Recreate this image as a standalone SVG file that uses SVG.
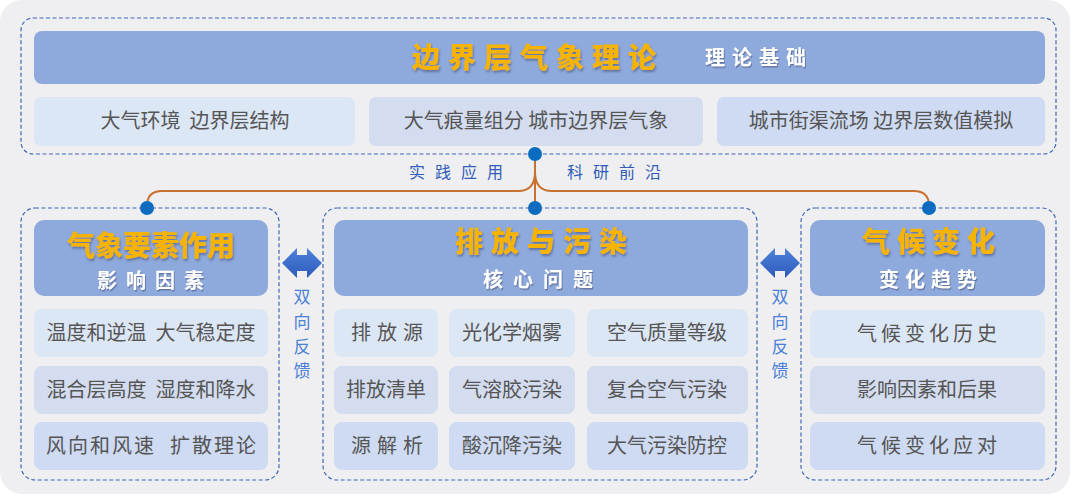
<svg xmlns="http://www.w3.org/2000/svg" width="1080" height="498" viewBox="0 0 1080 498">
<defs>
<linearGradient id="arrowG" x1="0" y1="0" x2="0" y2="1">
<stop offset="0" stop-color="#4f82dc"/><stop offset="1" stop-color="#2c5ab8"/>
</linearGradient>
<filter id="sh" x="-10%" y="-20%" width="130%" height="150%">
<feDropShadow dx="1" dy="2" stdDeviation="0.8" flood-color="#3a4670" flood-opacity="0.55"/>
</filter>
<filter id="shw" x="-10%" y="-20%" width="130%" height="150%">
<feDropShadow dx="1" dy="1.5" stdDeviation="0.6" flood-color="#3a4670" flood-opacity="0.5"/>
</filter>
</defs>
<style>
.dash{fill:none;stroke:#3f67b5;stroke-width:1.2;stroke-dasharray:4 2.5}
.hdr{fill:#8ea9db}
.r1{fill:#dce7f5}
.r2{fill:#d3ddef}
.r3{fill:#cedbf2}
.gold{font-family:"Noto Sans CJK SC",sans-serif;font-weight:900;font-size:28px;fill:#f6b400;filter:url(#sh)}
.sub{font-family:"Noto Sans CJK SC",sans-serif;font-weight:700;font-size:20px;fill:#ffffff;filter:url(#shw)}
.item{font-family:"Noto Sans CJK SC",sans-serif;font-size:20px;fill:#555555;text-anchor:middle}
.lab{font-family:"Noto Sans CJK SC",sans-serif;font-size:16px;fill:#2f5db9}
.fb{font-family:"Noto Sans CJK SC",sans-serif;font-size:17px;fill:#4a7fd8;text-anchor:middle}
.conn{fill:none;stroke:#c9712f;stroke-width:2}
.dot{fill:#0a6cc0}
.arr{fill:url(#arrowG)}
</style>
<rect x="0" y="0" width="1080" height="498" fill="#ffffff"/>
<rect x="0" y="0" width="1070" height="494" rx="22" fill="#efeff1"/>

<g id="top">
<rect class="dash" x="21" y="18" width="1035" height="136" rx="12"/>
<rect class="hdr" x="34" y="31" width="1011" height="53" rx="8"/>
<text class="gold" x="412" y="68" letter-spacing="8">边界层气象理论</text>
<text class="sub" x="705" y="65" letter-spacing="7">理论基础</text>
<rect class="r1" x="34" y="97" width="321" height="49" rx="7"/>
<rect class="r2" x="369" y="97" width="334" height="49" rx="7"/>
<rect class="r3" x="717" y="97" width="328" height="49" rx="7"/>
<text class="item" x="195" y="128" xml:space="preserve">大气环境  边界层结构</text>
<text class="item" x="536" y="128">大气痕量组分 城市边界层气象</text>
<text class="item" x="881" y="128">城市街渠流场 边界层数值模拟</text>
</g>

<g id="connectors">
<path class="conn" d="M535 154 V208"/>
<path class="conn" d="M535 172 Q535 191 518 191 H162 Q147 191 147 206"/>
<path class="conn" d="M535 172 Q535 191 552 191 H914 Q929 191 929 206"/>
<circle class="dot" cx="535" cy="154" r="7"/>
<circle class="dot" cx="535" cy="208" r="7"/>
<circle class="dot" cx="147" cy="208" r="7"/>
<circle class="dot" cx="929" cy="208" r="7"/>
<text class="lab" x="409" y="178" letter-spacing="10">实践应用</text>
<text class="lab" x="567" y="178" letter-spacing="10">科研前沿</text>
<polygon class="arr" points="282,263 297,248 297,255 307,255 307,248 322,263 307,278 307,271 297,271 297,278"/>
<text class="fb" x="302" y="303">双</text>
<text class="fb" x="302" y="328">向</text>
<text class="fb" x="302" y="353">反</text>
<text class="fb" x="302" y="377">馈</text>
<polygon class="arr" points="760,263 775,248 775,255 785,255 785,248 800,263 785,278 785,271 775,271 775,278"/>
<text class="fb" x="780" y="303">双</text>
<text class="fb" x="780" y="328">向</text>
<text class="fb" x="780" y="353">反</text>
<text class="fb" x="780" y="377">馈</text>
</g>

<g id="left">
<rect class="dash" x="21" y="208" width="258" height="272" rx="14"/>
<rect class="hdr" x="34" y="220" width="234" height="76" rx="10"/>
<text class="gold" x="151" y="256" text-anchor="middle" font-size="29">气象要素作用</text>
<text class="sub" x="155" y="288" text-anchor="middle" letter-spacing="9">影响因素</text>
<rect class="r1" x="34" y="309" width="234" height="48" rx="8"/>
<rect class="r2" x="34" y="366" width="234" height="48" rx="8"/>
<rect class="r3" x="34" y="422" width="234" height="48" rx="8"/>
<text class="item" x="151" y="340" xml:space="preserve">温度和逆温  大气稳定度</text>
<text class="item" x="151" y="397" xml:space="preserve">混合层高度  湿度和降水</text>
<text class="item" y="453" style="text-anchor:start" letter-spacing="2"><tspan x="46">风向和风速</tspan><tspan x="170">扩散理论</tspan></text>
</g>

<g id="center">
<rect class="dash" x="323" y="208" width="434" height="272" rx="14"/>
<rect class="hdr" x="334" y="220" width="414" height="76" rx="10"/>
<text class="gold" x="545" y="252" text-anchor="middle" letter-spacing="8">排放与污染</text>
<text class="sub" x="543" y="287" text-anchor="middle" letter-spacing="10">核心问题</text>
<rect class="r1" x="334" y="309" width="104" height="48" rx="8"/>
<rect class="r1" x="449" y="309" width="126" height="48" rx="8"/>
<rect class="r1" x="587" y="309" width="161" height="48" rx="8"/>
<rect class="r2" x="334" y="366" width="104" height="48" rx="8"/>
<rect class="r2" x="449" y="366" width="126" height="48" rx="8"/>
<rect class="r2" x="587" y="366" width="161" height="48" rx="8"/>
<rect class="r3" x="334" y="422" width="104" height="48" rx="8"/>
<rect class="r3" x="449" y="422" width="126" height="48" rx="8"/>
<rect class="r3" x="587" y="422" width="161" height="48" rx="8"/>
<text class="item" x="390" y="340" letter-spacing="6">排放源</text>
<text class="item" x="386" y="397">排放清单</text>
<text class="item" x="390" y="453" letter-spacing="6">源解析</text>
<text class="item" x="512" y="340">光化学烟雾</text>
<text class="item" x="512" y="397">气溶胶污染</text>
<text class="item" x="512" y="453">酸沉降污染</text>
<text class="item" x="667" y="340">空气质量等级</text>
<text class="item" x="667" y="397">复合空气污染</text>
<text class="item" x="667" y="453">大气污染防控</text>
</g>

<g id="right">
<rect class="dash" x="801" y="208" width="255" height="272" rx="14"/>
<rect class="hdr" x="810" y="220" width="235" height="76" rx="10"/>
<text class="gold" x="932" y="252" text-anchor="middle" letter-spacing="7">气候变化</text>
<text class="sub" x="931" y="287" text-anchor="middle" letter-spacing="6">变化趋势</text>
<rect class="r1" x="810" y="310" width="235" height="48" rx="8"/>
<rect class="r2" x="810" y="366" width="235" height="48" rx="8"/>
<rect class="r3" x="810" y="422" width="235" height="48" rx="8"/>
<text class="item" x="929" y="341" letter-spacing="4">气候变化历史</text>
<text class="item" x="927" y="397">影响因素和后果</text>
<text class="item" x="929" y="453" letter-spacing="4">气候变化应对</text>
</g>
</svg>
